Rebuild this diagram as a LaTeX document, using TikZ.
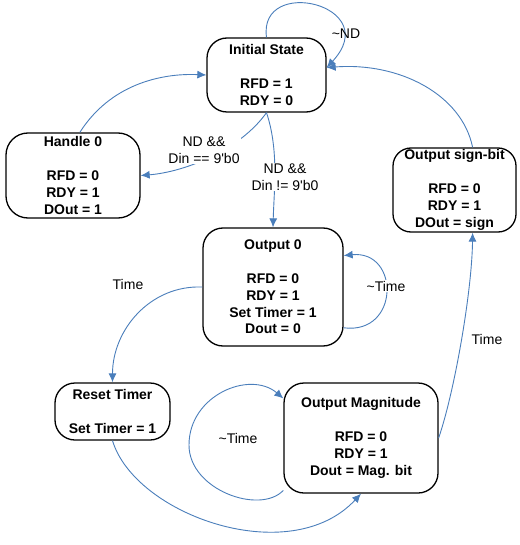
\documentclass[tikz,border=0pt]{standalone}
\usepackage{fontspec}
\setmainfont{Liberation Sans}[Ligatures=TeXOff]
\usetikzlibrary{arrows.meta}
\definecolor{edgeblue}{HTML}{4A7EBB}
\tikzset{
  state/.style={draw=black, line width=1.3pt, rounded corners=20pt, fill=white,
    inner sep=0pt, align=center, font=\bfseries\fontsize{14}{16.8}\selectfont},
  trans/.style={draw=edgeblue, line width=0.9pt, -{Latex[length=9pt,width=8pt]}},
  cond/.style={fill=white, inner sep=1pt, align=center, font=\fontsize{14}{17}\selectfont},
  plaincond/.style={inner sep=1pt, align=center, font=\fontsize{14}{17}\selectfont}
}
\begin{document}
\begin{tikzpicture}[x=1pt, y=-1pt]
\useasboundingbox (0,0) rectangle (519,545);

% states
\node[state, minimum width=119pt, minimum height=74pt] (init) at (266.5,75)
  {Initial State\\[16.8pt]RFD = 1\\RDY = 0};
\node[state, minimum width=134pt, minimum height=85pt, rounded corners=22pt] (handle) at (73,175.5)
  {Handle 0\\[16.8pt]RFD = 0\\RDY = 1\\DOut = 1};
\node[state, minimum width=123pt, minimum height=84pt, rounded corners=18pt] (sign) at (454.5,190)
  {Output sign-bit\\[16.8pt]RFD = 0\\RDY = 1\\DOut = sign};
\node[state, minimum width=140pt, minimum height=118pt] (out0) at (273,287)
  {Output 0\\[16.8pt]RFD = 0\\RDY = 1\\Set Timer = 1\\Dout = 0};
\node[state, minimum width=115pt, minimum height=57pt] (reset) at (112.5,411.5)
  {Reset Timer\\[16.8pt]Set Timer = 1};
\node[state, minimum width=154pt, minimum height=110pt] (mag) at (361,438)
  {Output Magnitude\\[16.8pt]RFD = 0\\RDY = 1\\Dout = Mag. bit};

% transitions
\draw[trans] (init.north) .. controls (258,-25) and (385,5) .. (init.7);
\node[plaincond] (lnd) at (346,34) {\textasciitilde ND};

\draw[trans] (sign.67) .. controls (462,95) and (400,62) .. (init.7);

\draw[trans] (handle.81) .. controls (110,85) and (160,73) .. (init.west);

\draw[trans] (init.south) .. controls (240,150) and (185,172) .. (handle.east);
\node[cond] (lzero) at (204,150) {ND \&\&\\Din == 9'b0};

\draw[trans] (init.south) .. controls (279,150) and (274,190) .. (out0.north);
\node[cond] (lnonzero) at (285,177) {ND \&\&\\Din != 9'b0};

\draw[trans] (out0.-30) .. controls (400,335) and (400,250) .. (out0.24);
\node[cond] (lwait0) at (386,286) {\textasciitilde Time};

\draw[trans] (out0.west) .. controls (150,285) and (112.5,330) .. (reset.north);
\node[plaincond] (ltime0) at (128,284) {Time};

\draw[trans] (reset.south) .. controls (135,515) and (290,570) .. (mag.south);

\draw[trans] (mag.214) .. controls (260,515) and (189,490) .. (189,445)
  .. controls (189,395) and (250,370) .. (mag.153);
\node[cond] (lwaitmag) at (238,438) {\textasciitilde Time};

\draw[trans] (mag.east) .. controls (455,390) and (472,290) .. (sign.-67);
\node[plaincond] (ltimemag) at (487,339) {Time};
\end{tikzpicture}
\end{document}
